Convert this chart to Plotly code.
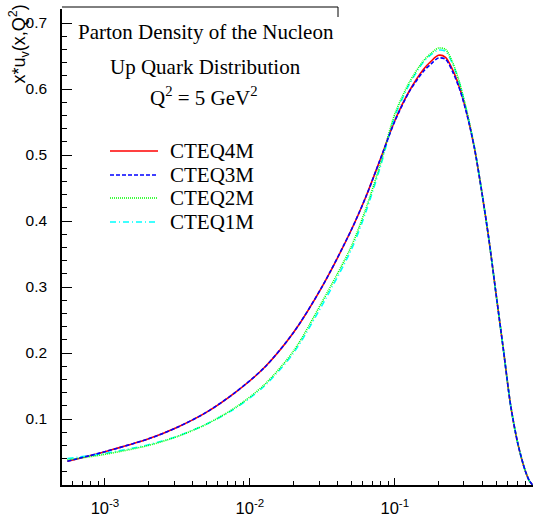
import plotly.graph_objects as go

# ---- data ----
x_vals = [0.00055, 0.001, 0.002, 0.00316, 0.005, 0.0079, 0.0126, 0.02, 0.0316,
          0.05, 0.063, 0.079, 0.1, 0.126, 0.158, 0.178, 0.2, 0.224, 0.251,
          0.282, 0.316, 0.355, 0.398, 0.447, 0.501, 0.562, 0.631, 0.708,
          0.794, 0.851, 0.895]

cteq4m = [0.036, 0.0505, 0.070, 0.0875, 0.110, 0.140, 0.178, 0.231, 0.301,
          0.386, 0.436, 0.492, 0.552, 0.597, 0.630, 0.642, 0.651, 0.648, 0.629,
          0.600, 0.561, 0.510, 0.445, 0.371, 0.288, 0.205, 0.120, 0.062,
          0.022, 0.006, 0.0]

cteq3m = [0.036, 0.0505, 0.070, 0.0875, 0.110, 0.140, 0.178, 0.231, 0.301,
          0.386, 0.436, 0.492, 0.551, 0.596, 0.627, 0.638, 0.647, 0.645, 0.626,
          0.598, 0.560, 0.510, 0.445, 0.371, 0.288, 0.205, 0.120, 0.062,
          0.022, 0.006, 0.0]

cteq2m = [0.038, 0.0465, 0.060, 0.0735, 0.092, 0.117, 0.152, 0.203, 0.278,
          0.361, 0.418, 0.484, 0.562, 0.610, 0.643, 0.654, 0.662, 0.660, 0.640,
          0.607, 0.564, 0.511, 0.445, 0.371, 0.288, 0.205, 0.120, 0.062,
          0.022, 0.006, 0.0]

cteq1m = [0.040, 0.048, 0.061, 0.074, 0.092, 0.116, 0.150, 0.200, 0.273,
          0.356, 0.413, 0.480, 0.558, 0.607, 0.641, 0.652, 0.659, 0.657, 0.638,
          0.606, 0.563, 0.511, 0.445, 0.371, 0.288, 0.205, 0.120, 0.062,
          0.022, 0.006, 0.0]

y_ticks = [0.1, 0.2, 0.3, 0.4, 0.5, 0.6, 0.7]
y_ticktext = ["0.1", "0.2", "0.3", "0.4", "0.5", "0.6", "0.7"]
x_ticks = [0.001, 0.01, 0.1]
x_ticktext = ["10<sup>-3</sup>", "10<sup>-2</sup>", "10<sup>-1</sup>"]

series = [
    ("CTEQ4M", cteq4m, "#ff0000", "solid"),
    ("CTEQ1M", cteq1m, "#00ffff", "6px,3px,1px,3px"),
    ("CTEQ2M", cteq2m, "#00ff00", "1px,1px"),
    ("CTEQ3M", cteq3m, "#0000ff", "4px,2px"),
]
legend_order = ["CTEQ4M", "CTEQ3M", "CTEQ2M", "CTEQ1M"]

# ---- layout geometry (pixels) ----
W, H = 533, 520
L, R, T, B = 62, 0, 9, 35
PW, PH = W - L - R, H - T - B


def px(xp):
    return (xp - L) / PW


def py(yp):
    return (H - B - yp) / PH


fig = go.Figure()
for name, vals, col, dash in series:
    fig.add_trace(go.Scatter(x=x_vals, y=vals, mode="lines", name=name,
                             line=dict(color=col, width=1.6, dash=dash, shape="spline",
                                       smoothing=0.8),
                             showlegend=False))

minor_x = [m * 10 ** e for e in range(-4, 0) for m in range(2, 10)]
sans = "Liberation Sans, Arial"

fig.update_layout(
    width=W, height=H,
    margin=dict(l=L, r=R, t=T, b=B, pad=0),
    paper_bgcolor="white", plot_bgcolor="white",
    xaxis=dict(type="log", range=[-3.2966, -0.046],
               tickvals=x_ticks, ticktext=x_ticktext,
               ticks="inside", ticklen=7, tickwidth=1, tickcolor="black",
               showline=True, linecolor="black", linewidth=1.5,
               showgrid=False, zeroline=False,
               tickfont=dict(family=sans, size=16.5, color="black"),
               ticklabelstandoff=7,
               minor=dict(ticks="inside", ticklen=4, tickvals=minor_x,
                          tickcolor="black", tickwidth=1, showgrid=False)),
    yaxis=dict(range=[0, PH / 660.0],
               tickvals=y_ticks, ticktext=y_ticktext,
               ticks="inside", ticklen=10, tickwidth=1, tickcolor="black",
               showline=True, linecolor="black", linewidth=1.5,
               showgrid=False, zeroline=False,
               tickfont=dict(family=sans, size=15.5, color="black"),
               ticklabelstandoff=10,
               minor=dict(ticks="inside", ticklen=5, dtick=0.02,
                          tickcolor="black", tickwidth=1, showgrid=False)),
    showlegend=False,
)

serif = dict(family="Liberation Serif, Times New Roman", size=21, color="black")
ann = [
    dict(text="Parton Density of the Nucleon", x=px(205.5), y=py(32)),
    dict(text="Up Quark Distribution", x=px(205), y=py(67)),
    dict(text="Q<sup>2</sup> = 5 GeV<sup>2</sup>", x=px(204), y=py(96)),
]
for a in ann:
    fig.add_annotation(xref="paper", yref="paper", showarrow=False,
                       xanchor="center", yanchor="middle", font=serif, **a)

# y-axis title, ROOT style at the top end of the axis
fig.add_annotation(xref="paper", yref="paper", showarrow=False,
                   text="x*u<sub>v</sub>(x,Q<sup>2</sup>)", textangle=-90,
                   x=px(19), y=py(3), xanchor="center", yanchor="top",
                   font=dict(family=sans, size=18, color="black"))

# hand-made legend (matching the ROOT legend spacing)
style = {name: (col, dash) for name, _, col, dash in series}
leg_y = [151, 175, 198, 222]
for name, yy in zip(legend_order, leg_y):
    col, dash = style[name]
    fig.add_shape(type="line", xref="paper", yref="paper",
                  x0=px(110), x1=px(158), y0=py(yy), y1=py(yy),
                  line=dict(color=col, width=1.5, dash=dash))
    fig.add_annotation(xref="paper", yref="paper", showarrow=False,
                       text=name, x=px(168), y=py(yy), xanchor="left",
                       yanchor="middle", font=serif)

# pave border at the top
fig.add_shape(type="line", xref="paper", yref="paper",
              x0=px(62), x1=px(338), y0=py(7), y1=py(7),
              line=dict(color="black", width=1))
fig.add_shape(type="line", xref="paper", yref="paper",
              x0=px(338), x1=px(338), y0=py(7), y1=py(17),
              line=dict(color="black", width=1))

fig.write_html("out.html")
